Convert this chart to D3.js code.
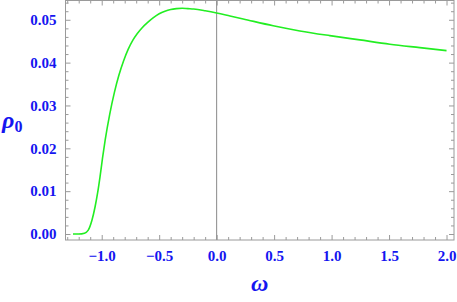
<!DOCTYPE html>
<html>
<head>
<meta charset="utf-8">
<script src="https://cdn.jsdelivr.net/npm/d3@7"></script>
<style>
  body { margin: 0; background: #fff; }
  svg { display: block; }
  .tick text { font-family: "Liberation Serif", "DejaVu Serif", serif; font-weight: bold; font-size: 15px; fill: #1515f0; }
</style>
</head>
<body>
<div id="chart"></div>
<script>
var omega = [-1.25, -1.2, -1.15, -1.117, -1.085, -1.058, -1.035, -1.015, -0.993, -0.97, -0.93, -0.89,
             -0.85, -0.81, -0.77, -0.73, -0.69, -0.65, -0.6, -0.55, -0.5, -0.45, -0.4, -0.35, -0.3,
             -0.25, -0.2, -0.1, 0, 0.116, 0.231, 0.492, 0.724, 0.985, 1.246, 1.507, 1.768, 2.0];
var rho = [0, 0, 0.0002, 0.0009, 0.0032, 0.0063, 0.0097, 0.0133, 0.0177, 0.0219, 0.0280, 0.0330,
           0.0371, 0.0404, 0.0431, 0.0452, 0.0468, 0.0481, 0.0494, 0.0505, 0.0514, 0.0520, 0.0524,
           0.0526, 0.0527, 0.0526, 0.0525, 0.0521, 0.0516, 0.0509, 0.0502, 0.0486, 0.0474, 0.0463,
           0.0453, 0.0443, 0.0435, 0.0428];
var xTicks = [-1.0, -0.5, 0.0, 0.5, 1.0, 1.5, 2.0];
var yTicks = [0.00, 0.01, 0.02, 0.03, 0.04, 0.05];

var W = 457, H = 302;
var pL = 65.5, pR = 454, pT = 0.5, pB = 240;

var svg = d3.select("#chart").append("svg")
  .attr("width", W).attr("height", H);

var x = d3.scaleLinear().domain([-1.315, 2.065]).range([pL, pR]);
var y = d3.scaleLinear().domain([-0.0014, 0.0545]).range([pB, pT]);

var xMinor = d3.range(-13, 21).map(function (i) { return i / 10; })
  .filter(function (v) { return Math.abs(v * 2 - Math.round(v * 2)) > 1e-6; });
var yMinor = d3.range(0, 28).map(function (i) { return i * 0.002; })
  .filter(function (v) { return Math.abs(v * 100 - Math.round(v * 100)) > 1e-6; });

var gray = "#9a9a9a";

// minor ticks on all four sides
function minorAxis(axis, tr) {
  var g = svg.append("g").attr("transform", tr).call(axis);
  g.select(".domain").remove();
  g.selectAll(".tick line").attr("stroke", gray);
  g.selectAll(".tick text").remove();
}
minorAxis(d3.axisBottom(x).tickValues(xMinor).tickSizeInner(-3).tickSizeOuter(0), "translate(0," + pB + ")");
minorAxis(d3.axisTop(x).tickValues(xMinor).tickSizeInner(-3).tickSizeOuter(0), "translate(0," + pT + ")");
minorAxis(d3.axisLeft(y).tickValues(yMinor).tickSizeInner(-3).tickSizeOuter(0), "translate(" + pL + ",0)");
minorAxis(d3.axisRight(y).tickValues(yMinor).tickSizeInner(-3).tickSizeOuter(0), "translate(" + pR + ",0)");

// major ticks
function majorAxis(axis, tr, labels) {
  var g = svg.append("g").attr("transform", tr).call(axis);
  g.select(".domain").remove();
  g.selectAll(".tick line").attr("stroke", gray);
  if (!labels) g.selectAll(".tick text").remove();
  return g;
}
var fmt = function (d) { return (d < 0 ? "\u2212" : "") + d3.format(".1f")(Math.abs(d)); };
majorAxis(d3.axisBottom(x).tickValues(xTicks).tickFormat(fmt).tickSizeInner(-5).tickSizeOuter(0).tickPadding(10),
  "translate(0," + pB + ")", true);
majorAxis(d3.axisTop(x).tickValues(xTicks).tickSizeInner(-5).tickSizeOuter(0), "translate(0," + pT + ")", false);
majorAxis(d3.axisLeft(y).tickValues(yTicks).tickFormat(d3.format(".2f")).tickSizeInner(-5).tickSizeOuter(0).tickPadding(9),
  "translate(" + pL + ",0)", true);
majorAxis(d3.axisRight(y).tickValues(yTicks).tickSizeInner(-5).tickSizeOuter(0), "translate(" + pR + ",0)", false);

// zero axis line
svg.append("line")
  .attr("x1", x(0)).attr("x2", x(0))
  .attr("y1", pT).attr("y2", pB)
  .attr("stroke", "#8a8a8a").attr("stroke-width", 1);

// frame
svg.append("rect")
  .attr("x", pL).attr("y", pT)
  .attr("width", pR - pL).attr("height", pB - pT)
  .attr("fill", "none").attr("stroke", gray).attr("stroke-width", 1);

// curve
var pts = omega.map(function (d, i) { return [d, rho[i]]; });
svg.append("path")
  .datum(pts)
  .attr("fill", "none")
  .attr("stroke", "#22ee22")
  .attr("stroke-width", 1.6)
  .attr("d", d3.line()
    .x(function (d) { return x(d[0]); })
    .y(function (d) { return y(d[1]); })
    .curve(d3.curveMonotoneX));

// axis labels
svg.append("text")
  .attr("x", (pL + pR) / 2).attr("y", 291)
  .attr("text-anchor", "middle")
  .attr("font-family", "Liberation Serif, DejaVu Serif, serif")
  .attr("font-style", "italic").attr("font-weight", "bold")
  .attr("font-size", 24).attr("fill", "#1515f0")
  .text("\u03c9");

var ylab = svg.append("text")
  .attr("x", 2).attr("y", 128)
  .attr("font-family", "Liberation Serif, DejaVu Serif, serif")
  .attr("font-weight", "bold").attr("fill", "#1515f0");
ylab.append("tspan").attr("font-style", "italic").attr("font-size", 24).text("\u03c1");
ylab.append("tspan").attr("font-size", 16).attr("dy", 4).text("0");
</script>
</body>
</html>
